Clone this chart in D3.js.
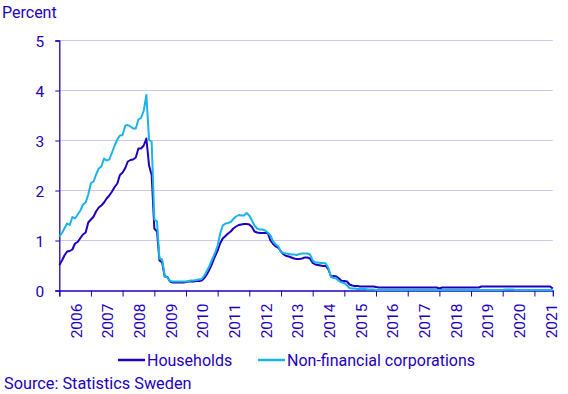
<!DOCTYPE html>
<html>
<head>
<meta charset="utf-8">
<script src="https://cdn.jsdelivr.net/npm/d3@7"></script>
<style>
  body { margin: 0; background: #fff; }
  text { font-family: Roboto, "Noto Sans", sans-serif; fill: #1e00be; }
</style>
</head>
<body>
<div id="chart"></div>
<script>
// monthly series, Jan 2006 - Aug 2021
var households = [
    0.51, 0.6, 0.7, 0.78, 0.79, 0.82, 0.94, 0.97, 1.05, 1.12, 1.16, 1.36,
    1.42, 1.48, 1.58, 1.66, 1.7, 1.76, 1.84, 1.9, 1.98, 2.07, 2.14, 2.31,
    2.36, 2.45, 2.58, 2.61, 2.62, 2.66, 2.84, 2.84, 2.9, 3.04, 2.5, 2.31,
    1.24, 1.18, 0.6, 0.56, 0.28, 0.27, 0.18, 0.16, 0.16, 0.16, 0.16, 0.16,
    0.17, 0.18, 0.18, 0.18, 0.19, 0.19, 0.2, 0.25, 0.33, 0.43, 0.55, 0.68,
    0.8, 0.95, 1.04, 1.09, 1.14, 1.18, 1.24, 1.28, 1.31, 1.32, 1.33, 1.33,
    1.32, 1.27, 1.18, 1.16, 1.15, 1.15, 1.15, 1.15, 1.0, 0.93, 0.88, 0.85,
    0.78, 0.72, 0.69, 0.68, 0.66, 0.64, 0.63, 0.63, 0.64, 0.66, 0.66, 0.64,
    0.55, 0.52, 0.51, 0.5, 0.49, 0.49, 0.42, 0.28, 0.29, 0.28, 0.24, 0.19,
    0.19, 0.18, 0.12, 0.1, 0.09, 0.09, 0.08, 0.08, 0.08, 0.08, 0.08, 0.08,
    0.07, 0.06, 0.06, 0.06, 0.06, 0.06, 0.06, 0.06, 0.06, 0.06, 0.06, 0.06,
    0.06, 0.06, 0.06, 0.06, 0.06, 0.06, 0.06, 0.06, 0.06, 0.06, 0.06, 0.06,
    0.04, 0.06, 0.06, 0.06, 0.06, 0.06, 0.06, 0.06, 0.06, 0.06, 0.06, 0.06,
    0.06, 0.06, 0.06, 0.06, 0.08, 0.08, 0.08, 0.08, 0.08, 0.08, 0.08, 0.08,
    0.08, 0.08, 0.08, 0.08, 0.08, 0.08, 0.08, 0.08, 0.08, 0.08, 0.08, 0.08,
    0.08, 0.08, 0.08, 0.08, 0.08, 0.08, 0.08, 0.04
];

var corporations = [
    1.08, 1.15, 1.24, 1.34, 1.31, 1.47, 1.44, 1.52, 1.6, 1.72, 1.76, 1.92,
    2.15, 2.18, 2.32, 2.44, 2.48, 2.64, 2.6, 2.62, 2.76, 2.9, 3.02, 3.1,
    3.11, 3.3, 3.31, 3.28, 3.24, 3.24, 3.42, 3.45, 3.6, 3.91, 3.01, 2.98,
    1.42, 1.38, 0.64, 0.62, 0.28, 0.26, 0.19, 0.18, 0.18, 0.18, 0.18, 0.18,
    0.18, 0.19, 0.2, 0.2, 0.21, 0.22, 0.23, 0.3, 0.4, 0.5, 0.63, 0.75,
    0.9, 1.15, 1.3, 1.34, 1.35, 1.37, 1.43, 1.48, 1.51, 1.5, 1.5, 1.55,
    1.5, 1.4, 1.3, 1.24, 1.22, 1.22, 1.2, 1.16, 1.1, 0.98, 0.92, 0.88,
    0.77, 0.75, 0.74, 0.73, 0.72, 0.72, 0.71, 0.73, 0.74, 0.74, 0.74, 0.72,
    0.6, 0.56, 0.56, 0.55, 0.55, 0.54, 0.45, 0.27, 0.25, 0.24, 0.19, 0.16,
    0.15, 0.1, 0.05, 0.04, 0.04, 0.03, 0.03, 0.03, 0.03, 0.02, 0.02, 0.02,
    0.01, 0.01, 0.01, 0.01, 0.01, 0.01, 0.01, 0.01, 0.01, 0.01, 0.01, 0.01,
    0.01, 0.01, 0.01, 0.01, 0.01, 0.01, 0.01, 0.01, 0.01, 0.01, 0.01, 0.01,
    0.01, 0.01, 0.01, 0.01, 0.01, 0.01, 0.01, 0.01, 0.01, 0.01, 0.01, 0.01,
    0.01, 0.01, 0.01, 0.01, 0.01, 0.01, 0.01, 0.01, 0.01, 0.01, 0.01, 0.01,
    0.01, 0.02, 0.02, 0.02, 0.02, 0.01, 0.01, 0.01, 0.01, 0.01, 0.01, 0.01,
    0.01, 0.01, 0.01, 0.01, 0.01, 0.01, 0.01, 0.01
];

var yTicks = [0, 1, 2, 3, 4, 5];
var years = d3.range(2006, 2022);
var seriesNames = ['Households', 'Non-financial corporations'];
var seriesColors = ['#1e00be', '#1ab4e8'];

var months = households.map((d, i) => new Date(2006, i, 1));

var svg = d3.select('#chart').append('svg')
    .attr('width', 568)
    .attr('height', 394);

var x = d3.scaleTime()
    .domain([months[0], months[months.length - 1]])
    .range([59.3, 552.8]);

var y = d3.scaleLinear()
    .domain([0, 5])
    .range([290.5, 40.5]);

// grid
svg.append('g')
    .selectAll('line')
    .data(yTicks.filter(d => d > 0))
    .enter().append('line')
    .attr('x1', x.range()[0])
    .attr('x2', x.range()[1])
    .attr('y1', d => y(d))
    .attr('y2', d => y(d))
    .attr('stroke', '#c8c8f0')
    .attr('stroke-width', 1);

// y axis
var yAxis = svg.append('g')
    .attr('transform', 'translate(' + x.range()[0] + ',0)')
    .call(d3.axisLeft(y).tickValues(yTicks).tickSize(4).tickPadding(11).tickFormat(d3.format('d')));
yAxis.select('.domain').attr('stroke', '#1e00be').attr('stroke-width', 1.3);
yAxis.selectAll('.tick line').attr('stroke', '#1e00be');
yAxis.selectAll('.tick text').style('font-size', '15.5px').attr('dy', '0.36em');

// x axis: ticks on year boundaries, labels mid-year
var xAxis = svg.append('g')
    .attr('transform', 'translate(0,' + y(0) + ')')
    .call(d3.axisBottom(x)
        .tickValues(years.map(yr => new Date(yr, 0, 1)))
        .tickSize(6)
        .tickFormat(''));
xAxis.select('.domain').attr('stroke', '#1e00be').attr('stroke-width', 1.3);
xAxis.selectAll('.tick line').attr('stroke', '#1e00be');

svg.append('g')
    .selectAll('text')
    .data(years)
    .enter().append('text')
    .attr('transform', d => 'translate(' + (x(new Date(d, 6, 1)) + 1) + ',' + (y(0) + 13) + ') rotate(-90)')
    .attr('text-anchor', 'end')
    .attr('dy', '0.36em')
    .style('font-size', '15.5px')
    .text(d => d);

// lines
var line = d3.line()
    .x((d, i) => x(months[i]))
    .y(d => y(d));

[households, corporations].forEach(function (s, k) {
    svg.append('path')
        .datum(s)
        .attr('d', line)
        .attr('fill', 'none')
        .attr('stroke', seriesColors[k])
        .attr('stroke-width', 2)
        .attr('stroke-linejoin', 'round');
});

// title
svg.append('text')
    .attr('x', 2)
    .attr('y', 18)
    .style('font-size', '16px')
    .text('Percent');

// legend
var legendPos = [118, 258];
var legend = svg.append('g')
    .selectAll('g')
    .data(seriesNames)
    .enter().append('g')
    .attr('transform', (d, i) => 'translate(' + legendPos[i] + ',360)');

legend.append('line')
    .attr('x1', 0)
    .attr('x2', 27)
    .attr('stroke', (d, i) => seriesColors[i])
    .attr('stroke-width', 2.5);

legend.append('text')
    .attr('x', 29)
    .attr('dy', '0.36em')
    .style('font-size', '16px')
    .text(d => d);

svg.append('text')
    .attr('x', 4)
    .attr('y', 389)
    .style('font-size', '16.3px')
    .text('Source: Statistics Sweden');
</script>
</body>
</html>
